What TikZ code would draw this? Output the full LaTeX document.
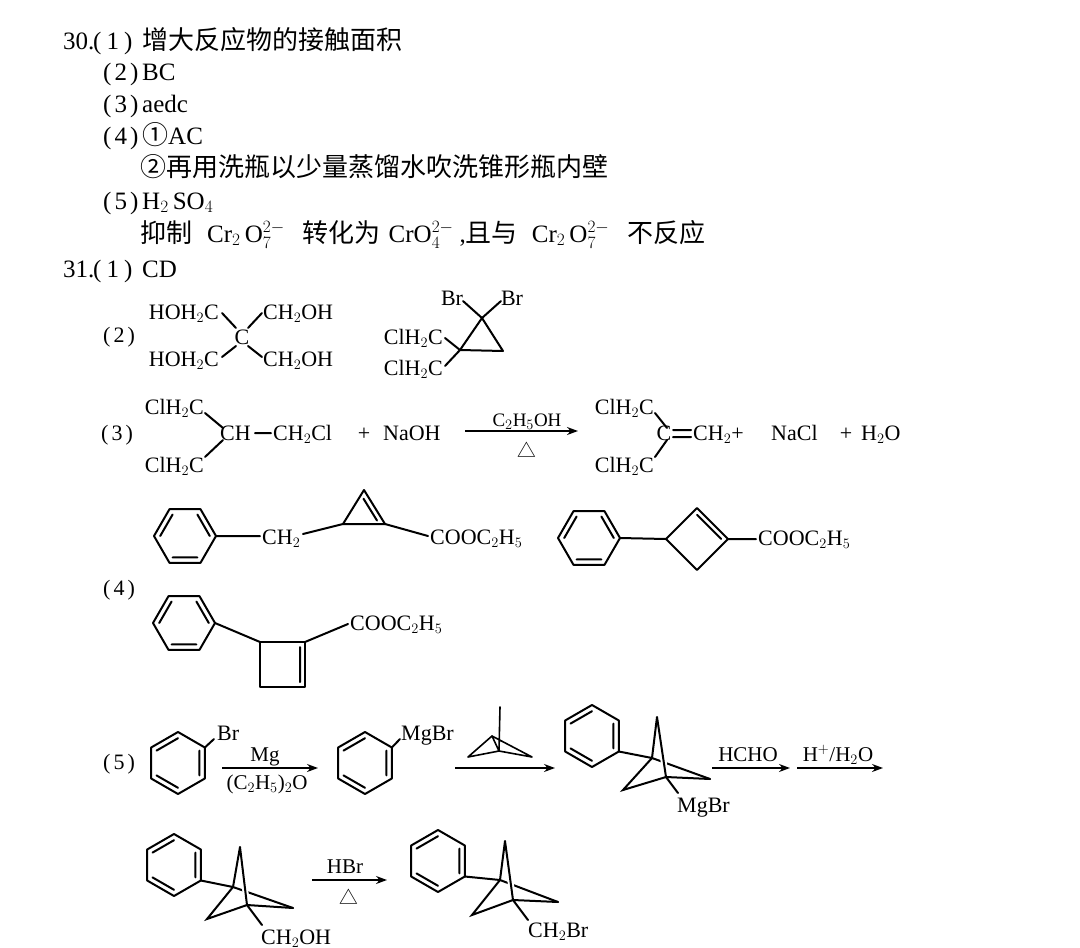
\documentclass[tikz,border=0pt]{standalone}
\usepackage{fontspec}
\setmainfont{Liberation Serif}
\newfontfamily\cjk[Scale=1.04]{Noto Sans CJK SC}
\usetikzlibrary{arrows.meta,calc}
\tikzset{
 bond/.style={line width=2pt,line cap=round},
 benzF/.pic={
  \draw[bond,line join=round] (-31,0)--(-15.5,-26.85)--(15.5,-26.85)--(31,0)--(15.5,26.85)--(-15.5,26.85)--cycle;
  \draw[bond] (-24.8,0)--(-12.4,-21.48) (12.4,-21.48)--(24.8,0) (12.4,21.48)--(-12.4,21.48);
  \coordinate (-r) at (31,0);
 },
 benzP/.pic={
  \draw[bond,line join=round] (0,-31)--(26.85,-15.5)--(26.85,15.5)--(0,31)--(-26.85,15.5)--(-26.85,-15.5)--cycle;
  \draw[bond] (0,-24.8)--(-21.48,-12.4) (21.48,-12.4)--(21.48,12.4) (0,24.8)--(-21.48,12.4);
  \coordinate (-ur) at (26.85,-15.5);
  \coordinate (-lr) at (26.85,15.5);
 }
}
\begin{document}
\begin{tikzpicture}[x=1pt,y=-1pt,
 txt/.style={inner sep=0pt,anchor=base west,font=\fontsize{25}{30}\selectfont},
 lab/.style={inner sep=0pt,font=\fontsize{22}{26}\selectfont},
 rg/.style={inner sep=0pt,anchor=base,font=\fontsize{21}{24}\selectfont},
 rxn/.style={line width=1.4pt,-{Stealth[length=11pt,width=8pt]}},
 halo/.style={white,line width=6pt}]
\fill[white] (0,0) rectangle (1080,948);
\useasboundingbox (0,0) rectangle (1080,948);

% ---------- question 30 ----------
\node[txt] (n30) at (63,49) {30.};
\node[txt] (q1) at (93,49) {(\hspace{5pt}1\hspace{5pt})};
\node[txt] (a1) at (142,49) {\cjk 增大反应物的接触面积};
\node[txt] (q2) at (103,80) {(\hspace{3pt}2\hspace{3pt})};
\node[txt] (a2) at (142,80) {BC};
\node[txt] (q3) at (103,112) {(\hspace{3pt}3\hspace{3pt})};
\node[txt] (a3) at (142,112) {aedc};
\node[txt] (q4) at (103,144) {(\hspace{3pt}4\hspace{3pt})};
\node[txt] (a4) at (142,144) {{\cjk ①}AC};
\node[txt] (a4b) at (140,176) {\cjk ②再用洗瓶以少量蒸馏水吹洗锥形瓶内壁};
\node[txt] (q5) at (103,209) {(\hspace{3pt}5\hspace{3pt})};
\node[txt] (a5) at (142,209) {H$_2$\,SO$_4$};
\node[txt] (a5b) at (140,242) {{\cjk 抑制}\hspace{15pt}Cr$_2$\,O$_7^{2-}$\hspace{18pt}{\cjk 转化为}\hspace{8pt}CrO$_4^{2-}$\hspace{6pt},{\cjk 且与}\hspace{14pt}Cr$_2$\,O$_7^{2-}$\hspace{18pt}{\cjk 不反应}};
% ---------- question 31 ----------
\node[txt] (n31) at (63,277) {31.};
\node[txt] (q6) at (93,277) {(\hspace{5pt}1\hspace{5pt})};
\node[txt] (a6) at (142,277) {CD};

% (2)
\node[lab,anchor=base west] (l2) at (103,342.5) {(\hspace{3pt}2\hspace{3pt})};
\node[lab,anchor=base east] (pe1) at (219,319.5) {HOH$_2$C};
\node[lab,anchor=base west] (pe2) at (263,319.5) {CH$_2$OH};
\node[lab,anchor=base] (pe0) at (242,344.5) {C};
\node[lab,anchor=base east] (pe3) at (219,366.5) {HOH$_2$C};
\node[lab,anchor=base west] (pe4) at (263,366.5) {CH$_2$OH};
\path (222,313) coordinate (pa1) (236,328) coordinate (pa2) (262,313) coordinate (pa3) (248,328) coordinate (pa4)
      (236,346) coordinate (pa5) (222,357) coordinate (pa6) (248,346) coordinate (pa7) (262,357) coordinate (pa8);
\draw[bond] (pa1)--(pa2) (pa3)--(pa4) (pa5)--(pa6) (pa7)--(pa8);

\path (482,318) coordinate (cp1) (460,350) coordinate (cp2) (503,351) coordinate (cp3)
      (463,301) coordinate (cpb1) (501,301) coordinate (cpb2) (445,338) coordinate (cpc1) (445,366) coordinate (cpc2);
\draw[bond,line join=round] (cp1)--(cp2)--(cp3)--cycle;
\draw[bond] (cpb1)--(cp1)--(cpb2) (cpc1)--(cp2)--(cpc2);
\node[lab,anchor=base] (br1) at (452,305.5) {Br};
\node[lab,anchor=base] (br2) at (512,305.5) {Br};
\node[lab,anchor=base east] (cl1) at (443,344.5) {ClH$_2$C};
\node[lab,anchor=base east] (cl2) at (443,375.5) {ClH$_2$C};

% (3)
\node[lab,anchor=base west] (l3) at (101,440.5) {(\hspace{3pt}3\hspace{3pt})};
\node[lab,anchor=base east] (e1) at (204,414.5) {ClH$_2$C};
\node[lab,anchor=base east] (e2) at (204,472.5) {ClH$_2$C};
\node[lab,anchor=base west] (e3) at (220,440.5) {CH};
\node[lab,anchor=base west] (e4) at (273,440.5) {CH$_2$Cl};
\node[lab,anchor=base] (e5) at (364,440.5) {+};
\node[lab,anchor=base west] (e6) at (383,440.5) {NaOH};
\path (205,413) coordinate (ea1) (223,428) coordinate (ea2) (223,440) coordinate (ea3) (205,457) coordinate (ea4)
      (255,433) coordinate (ea5) (271,433) coordinate (ea6);
\draw[bond] (ea1)--(ea2) (ea3)--(ea4) (ea5)--(ea6);
\path (465,431) coordinate (ar1s) (578,431) coordinate (ar1e);
\draw[rxn] (ar1s) -- (ar1e);
\node[rg,font=\fontsize{19}{22}\selectfont] (r1) at (527,426) {C$_2$H$_5$OH};
\node[rg,font=\fontsize{18}{20}\selectfont\cjk] (r2) at (527,457) {△};
\node[lab,anchor=base east] (f1) at (654,414.5) {ClH$_2$C};
\node[lab,anchor=base east] (f2) at (654,472.5) {ClH$_2$C};
\node[lab,anchor=base] (f3) at (664,440.5) {C};
\node[lab,anchor=base west] (f4) at (693,440.5) {CH$_2$+};
\node[lab,anchor=base west] (f5) at (771,440.5) {NaCl};
\node[lab,anchor=base] (f6) at (846,440.5) {+};
\node[lab,anchor=base west] (f7) at (861,440.5) {H$_2$O};
\path (655,413) coordinate (fa1) (667,428) coordinate (fa2) (667,440) coordinate (fa3) (655,457) coordinate (fa4)
      (673,430) coordinate (fa5) (691,430) coordinate (fa6) (673,437) coordinate (fa7) (691,437) coordinate (fa8);
\draw[bond] (fa1)--(fa2) (fa3)--(fa4) (fa5)--(fa6) (fa7)--(fa8);

% row of two isomers
\pic (bzA) at (185,536) {benzF};
\node[lab,anchor=base west] (chA) at (262,544.5) {CH$_2$};
\path (260,536) coordinate (ga1) (303,534) coordinate (ga2) (364,490) coordinate (gT) (343,524) coordinate (gL)
      (385,524) coordinate (gR) (363.5,498.7) coordinate (gi1) (377,520.5) coordinate (gi2) (428,536) coordinate (ga3);
\draw[bond] (bzA-r)--(ga1) (ga2)--(gL) (gR)--(ga3) (gi1)--(gi2);
\draw[bond,line join=round] (gT)--(gL)--(gR)--cycle;
\node[lab,anchor=base west] (esA) at (430,544.5) {COOC$_2$H$_5$};

\pic (bzB) at (589,538) {benzF};
\path (666,539) coordinate (hL) (697,508) coordinate (hT) (728,539) coordinate (hR) (697,570) coordinate (hB)
      (697,514.8) coordinate (hi1) (721.2,539) coordinate (hi2) (756,539) coordinate (ha1);
\draw[bond,line join=round] (hL)--(hT)--(hR)--(hB)--cycle;
\draw[bond] (bzB-r)--(hL) (hR)--(ha1) (hi1)--(hi2);
\node[lab,anchor=base west] (esB) at (758,545.5) {COOC$_2$H$_5$};

% (4)
\node[lab,anchor=base west] (l4) at (103,595.5) {(\hspace{3pt}4\hspace{3pt})};
\pic (bzC) at (184,623) {benzF};
\path (260,642) coordinate (kTL) (305,642) coordinate (kTR) (305,687) coordinate (kBR) (260,687) coordinate (kBL)
      (300,647) coordinate (ki1) (300,682) coordinate (ki2) (348,624) coordinate (ka1);
\draw[bond,line join=round] (kTL)--(kTR)--(kBR)--(kBL)--cycle;
\draw[bond] (bzC-r)--(kTL) (kTR)--(ka1) (ki1)--(ki2);
\node[lab,anchor=base west] (esC) at (350,630.5) {COOC$_2$H$_5$};

% (5)
\node[lab,anchor=base west] (l5) at (103,769.5) {(\hspace{3pt}5\hspace{3pt})};
\pic (bz1) at (178,763) {benzP};
\path (214,739) coordinate (m1);
\draw[bond] (bz1-ur)--(m1);
\node[lab,anchor=base west] (br3) at (217,740.5) {Br};
\path (222,768) coordinate (ar2s) (318,768) coordinate (ar2e);
\draw[rxn] (ar2s)--(ar2e);
\node[rg] (r3) at (265,761) {Mg};
\node[rg] (r4) at (267,789) {(C$_2$H$_5$)$_2$O};

\pic (bz2) at (365,763) {benzP};
\path (400,739) coordinate (m2);
\draw[bond] (bz2-ur)--(m2);
\node[lab,anchor=base west] (mg1) at (401,740.5) {MgBr};
\path (455,768) coordinate (ar3s) (555,768) coordinate (ar3e);
\draw[rxn] (ar3s)--(ar3e);
% [1.1.1]propellane
\path (500,707) coordinate (pr1) (492,736) coordinate (pr2) (499,751) coordinate (pr3) (468,757) coordinate (pr4) (532,757) coordinate (pr5);
\draw[bond,line width=1.6pt] (pr1)--(pr3) (pr2)--(pr3) (pr4)--(pr2)--(pr5) (pr4)--(pr3)--(pr5);

% phenyl bicyclopentyl MgBr
\pic (bz3) at (592,736) {benzP};
\path (652,758) coordinate (sB1) (657,717) coordinate (sT) (666,777) coordinate (sB2) (623,790) coordinate (sL) (710,779) coordinate (sR) (678,793) coordinate (sX);
\draw[bond] (sB1)--(sR);
\draw[halo] ($(sT)!0.6!(sB2)$)--($(sT)!0.9!(sB2)$);
\draw[bond] (sT)--(sB2)--(sR) (sT)--(sB1)--(sL)--(sB2) (bz3-lr)--(sB1) (sB2)--(sX);
\node[lab,anchor=base west] (mg2) at (677,812.5) {MgBr};
\path (712,768) coordinate (ar4s) (790,768) coordinate (ar4e) (797,768) coordinate (ar5s) (883,768) coordinate (ar5e);
\draw[rxn] (ar4s)--(ar4e);
\draw[rxn] (ar5s)--(ar5e);
\node[rg] (r5) at (748,761) {HCHO};
\node[rg] (r6) at (838,761) {H$^+$/H$_2$O};

% last row
\pic (bz4) at (174,865) {benzP};
\path (233,887) coordinate (uB1) (240,847) coordinate (uT) (247,905) coordinate (uB2) (207,919) coordinate (uL) (293,908) coordinate (uR) (262,925) coordinate (uX);
\draw[bond] (uB1)--(uR);
\draw[halo] ($(uT)!0.6!(uB2)$)--($(uT)!0.9!(uB2)$);
\draw[bond] (uT)--(uB2)--(uR) (uT)--(uB1)--(uL)--(uB2) (bz4-lr)--(uB1) (uB2)--(uX);
\node[lab,anchor=base west] (oh) at (261,944) {CH$_2$OH};
\path (312,880) coordinate (ar6s) (387,880) coordinate (ar6e);
\draw[rxn] (ar6s)--(ar6e);
\node[rg] (r7) at (345,873) {HBr};
\node[rg,font=\fontsize{18}{20}\selectfont\cjk] (r8) at (349,904) {△};

\pic (bz5) at (438,861) {benzP};
\path (500,880) coordinate (vB1) (505,841) coordinate (vT) (513,900) coordinate (vB2) (472,915) coordinate (vL) (558,902) coordinate (vR) (528,920) coordinate (vX);
\draw[bond] (vB1)--(vR);
\draw[halo] ($(vT)!0.6!(vB2)$)--($(vT)!0.9!(vB2)$);
\draw[bond] (vT)--(vB2)--(vR) (vT)--(vB1)--(vL)--(vB2) (bz5-lr)--(vB1) (vB2)--(vX);
\node[lab,anchor=base west] (cbr) at (528,937.5) {CH$_2$Br};
\end{tikzpicture}
\end{document}
